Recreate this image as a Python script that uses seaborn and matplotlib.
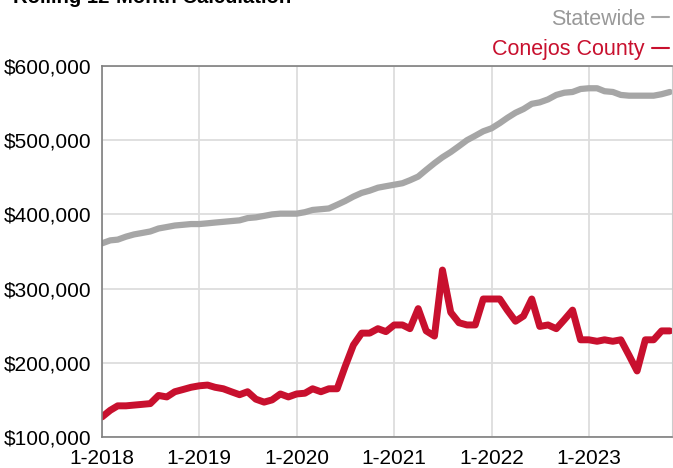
import pandas as pd
import seaborn as sns
import matplotlib.pyplot as plt
import matplotlib.ticker as mticker

# Monthly rolling 12-month values, Jan 2018 - Nov 2023 (in $)
months = pd.date_range("2018-01-01", "2023-11-01", freq="MS")

statewide = [
    361, 365, 366, 370, 373, 375, 377, 381, 383, 385, 386, 387,
    387, 388, 389, 390, 391, 392, 395, 396, 398, 400, 401, 401,
    401, 403, 406, 407, 408, 413, 418, 424, 429, 432, 436, 438,
    440, 442, 446, 451, 460, 469, 477, 484, 492, 500, 506, 512,
    516, 523, 530, 537, 542, 549, 551, 555, 561, 564, 565, 569,
    570, 570, 566, 565, 561, 560, 560, 560, 560, 562, 565,
]
conejos = [
    127, 136, 142, 142, 143, 144, 145, 156, 154, 161, 164, 167,
    169, 170, 167, 165, 161, 157, 161, 151, 147, 150, 158, 154,
    158, 159, 165, 161, 165, 165, 195, 224, 240, 240, 246, 242,
    251, 251, 246, 273, 243, 236, 325, 268, 254, 251, 251, 286,
    286, 286, 271, 256, 263, 286, 249, 251, 246, 258, 271, 231,
    231, 229, 231, 229, 231, 210, 189, 231, 231, 243, 243,
]

series_names = ["Statewide", "Conejos County"]
series_colors = ["#a6a6a6", "#c8102e"]
year_ticks = pd.to_datetime(["2018-01-01", "2019-01-01", "2020-01-01",
                             "2021-01-01", "2022-01-01", "2023-01-01"])
year_labels = ["1-2018", "1-2019", "1-2020", "1-2021", "1-2022", "1-2023"]
y_ticks = [100000, 200000, 300000, 400000, 500000, 600000]

df = pd.concat([
    pd.DataFrame({"month": months, "value": [v * 1000 for v in statewide], "area": series_names[0]}),
    pd.DataFrame({"month": months, "value": [v * 1000 for v in conejos], "area": series_names[1]}),
])

sns.set_style("white")
plt.rcParams["font.family"] = ["Liberation Sans", "DejaVu Sans"]

fig = plt.figure(figsize=(6.73, 4.68), dpi=100)
ax = fig.add_axes([102 / 673, 1 - 437 / 468, 570 / 673, 371 / 468])

sns.lineplot(data=df, x="month", y="value", hue="area", hue_order=series_names,
             palette=series_colors, linewidth=4.5, ax=ax, legend=True)
ax.lines[1].set_linewidth(5)

ax.set_xlim(pd.Timestamp("2018-01-01"), pd.Timestamp("2023-11-09"))
ax.set_ylim(100000, 600000)
ax.set_xticks(year_ticks)
ax.set_xticklabels(year_labels)
ax.set_yticks(y_ticks)
ax.yaxis.set_major_formatter(mticker.FuncFormatter(lambda v, p: f"${v:,.0f}"))
ax.set_xlabel("")
ax.set_ylabel("")

ax.grid(True, color="#dddddd", linewidth=1.3)
ax.set_axisbelow(True)
for side in ["left", "bottom", "top"]:
    ax.spines[side].set_color("#7f7f7f")
    ax.spines[side].set_linewidth(1.2)
ax.spines["right"].set_color("#cccccc")
ax.tick_params(axis="both", which="both", direction="out", length=4.5, width=1,
               color="#7f7f7f", labelsize=15, pad=3, colors="#7f7f7f", labelcolor="black")
ax.tick_params(axis="x", pad=4.5)

leg = ax.legend(loc="upper right", bbox_to_anchor=(1.003, 0.995), bbox_transform=fig.transFigure,
                frameon=False, markerfirst=False, labelcolor="linecolor", fontsize=15.5,
                handlelength=0.75, handletextpad=0.35, labelspacing=0.45, borderaxespad=0.1,
                borderpad=0.2)
for h in leg.legend_handles:
    h.set_linewidth(1.5)
leg.get_texts()[0].set_color("#999999")

fig.text(13 / 673, 1 - 3 / 468, "Rolling 12-Month Calculation", fontsize=14.6,
         fontweight="bold", ha="left", va="baseline", color="black")

fig.savefig("out.png", dpi=100)
